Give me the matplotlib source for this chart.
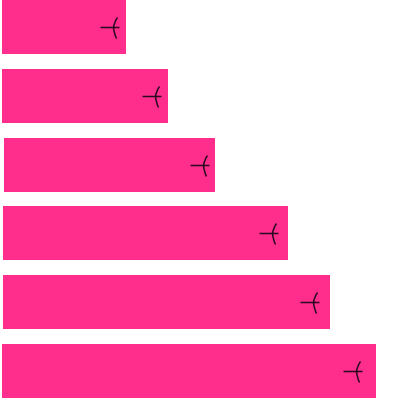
import matplotlib
matplotlib.use("Agg")
import matplotlib.pyplot as plt
from matplotlib.path import Path
import numpy as np

# bar data (horizontal extent in chart units, top to bottom)
rows = [0, 1, 2, 3, 4, 5]
starts = [1.5, 2.0, 3.5, 3.0, 3.0, 2.0]
ends = [126, 168, 215, 288, 330, 376]
targets = [113, 155, 203, 272, 313, 356]

BAR_COLOR = "#ff2e8c"
MARK_COLOR = "#2a0a22"

# custom "-<" marker: horizontal stroke through the vertex of a chevron
verts = [(-13, 0), (6, 0),
         (4, 10), (0.5, 5), (0, 0),
         (0, 0), (0.5, -6), (3, -11)]
codes = [Path.MOVETO, Path.LINETO,
         Path.MOVETO, Path.CURVE3, Path.CURVE3,
         Path.MOVETO, Path.CURVE3, Path.CURVE3]
tick_marker = Path(verts, codes)

fig = plt.figure(figsize=(4, 4), dpi=100)
ax = fig.add_axes([0, 0, 1, 1])

widths = np.array(ends) - np.array(starts)
ax.barh(rows, widths, left=starts, height=0.785, color=BAR_COLOR, edgecolor="none")

ax.plot(targets, rows, linestyle="none", marker=tick_marker, markersize=18.7,
        markerfacecolor="none", markeredgecolor=MARK_COLOR, markeredgewidth=1.1)

ax.set_xlim(0, 400)
ax.set_ylim(5.42, -0.392)
ax.axis("off")

fig.savefig("out.png", dpi=100, facecolor="white")
